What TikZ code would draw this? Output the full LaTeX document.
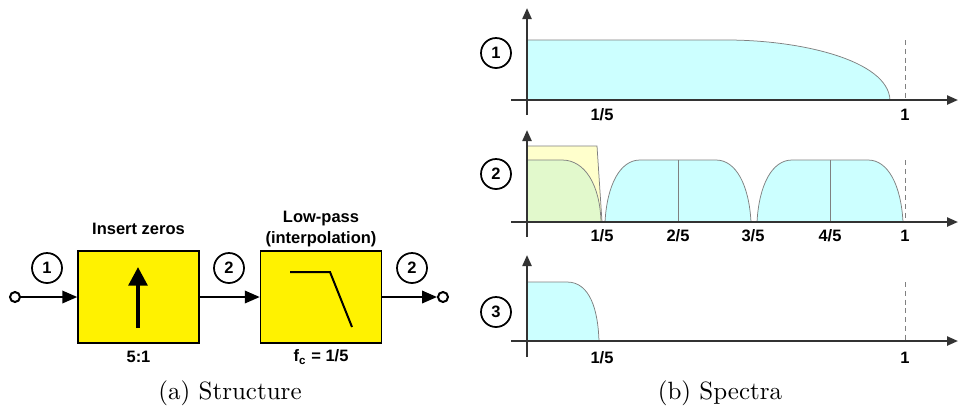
\documentclass[tikz,border=0pt]{standalone}
\usepackage{fontspec}
\newfontfamily\lblfont{Liberation Sans}
\usetikzlibrary{arrows.meta,calc}

\definecolor{specblue}{HTML}{CCFFFF}
\definecolor{specyellow}{HTML}{FFFFCC}
\definecolor{specgreen}{HTML}{E2F9CC}

\tikzset{
  lbl/.style={font=\lblfont\bfseries\fontsize{6.6}{8.4}\selectfont},
  num/.style={lbl,circle,draw,line width=0.7pt,minimum size=12pt,inner sep=0pt},
  blk/.style={draw,fill=yellow,line width=0.6pt,minimum width=48.4pt,minimum height=36.8pt},
  port/.style={circle,draw,fill=white,line width=0.8pt,minimum size=4pt,inner sep=0pt},
  sig/.style={line width=0.8pt,-{Triangle[length=6pt,width=5pt]}},
  axis/.style={line width=0.9pt,draw=black!80,-{Triangle[length=4.4pt,width=3.6pt]}},
  spec/.style={draw=black!50,line width=0.3pt},
  caption/.style={font=\fontsize{10}{12}\selectfont}
}

\begin{document}
\begin{tikzpicture}[x=0.4pt,y=-0.4pt]
  \useasboundingbox (0,0) rectangle (958,409);

  % (a) structure
  \node[port] (in) at (15,297) {};
  \node[blk] (zeros) at (138.5,297) {};
  \node[blk] (lowpass) at (321,297) {};
  \node[port] (out) at (443,297) {};
  \draw[sig] (in) -- (zeros);
  \draw[sig] (zeros) -- (lowpass);
  \draw[sig] (lowpass) -- (out);
  \draw[line width=1.6pt,-{Triangle[length=7.4pt,width=7.4pt]}] (138,328) -- (138,267);
  \draw[line width=0.8pt] (290,272) -- (330,272) -- (352,327);
  \node[lbl] (zerostxt) at (138.5,229) {Insert zeros};
  \node[lbl,align=center] (lowtxt) at (321,229) {Low-pass\\(interpolation)};
  \node[lbl] (ratio) at (138.5,357) {5:1};
  \node[lbl] (cutoff) at (321,357) {f\textsubscript{c} = 1/5};
  \node[num] (n1) at (47,268) {1};
  \node[num] (n2) at (229,268) {2};
  \node[num] (n3) at (412,268) {2};
  \node[caption] (capa) at (230,393) {(a) Structure};

  % (b) spectra, panel 1
  \fill[specblue] (527,100) -- (527,40) -- (727,40) .. controls (800,40) and (888,60) .. (890,100) -- cycle;
  \draw[spec] (527,40) -- (727,40) .. controls (800,40) and (888,60) .. (890,100);
  \draw[spec,dash pattern=on 2pt off 1.5pt] (905,40) -- (905,100);
  \draw[axis] (511,100) -- (958,100);
  \draw[axis] (527,115) -- (527,8);
  \node[num] (s1) at (496,53) {1};
  \node[lbl] (a1t1) at (602,115) {1/5};
  \node[lbl] (a1t5) at (905,115) {1};

  % panel 2
  \filldraw[spec,fill=specyellow] (527,222) -- (527,146) -- (597,146) -- (602,222) -- cycle;
  \filldraw[spec,fill=specgreen] (527,222) -- (527,160) -- (562,160) .. controls (585,160) and (600,185) .. (601,222) -- cycle;
  \foreach \c in {678,830} {
    \filldraw[spec,fill=specblue] (\c-73,222) .. controls (\c-71,185) and (\c-58,160) .. (\c-38,160)
      -- (\c+38,160) .. controls (\c+58,160) and (\c+71,185) .. (\c+73,222) -- cycle;
    \draw[spec] (\c,160) -- (\c,222);
  }
  \draw[spec,dash pattern=on 2pt off 1.5pt] (905,160) -- (905,222);
  \draw[axis] (511,222) -- (958,222);
  \draw[axis] (527,237) -- (527,130);
  \node[num] (s2) at (496,174) {2};
  \node[lbl] (a2t1) at (602,236) {1/5};
  \node[lbl] (a2t2) at (678,236) {2/5};
  \node[lbl] (a2t3) at (753,236) {3/5};
  \node[lbl] (a2t4) at (830,236) {4/5};
  \node[lbl] (a2t5) at (905,236) {1};

  % panel 3
  \filldraw[spec,fill=specblue] (527,341) -- (527,282) -- (567,282) .. controls (590,282) and (598,310) .. (599,341) -- cycle;
  \draw[spec,dash pattern=on 2pt off 1.5pt] (905,282) -- (905,341);
  \draw[axis] (511,341) -- (958,341);
  \draw[axis] (527,357) -- (527,255);
  \node[num] (s3) at (496,312) {3};
  \node[lbl] (a3t1) at (602,358) {1/5};
  \node[lbl] (a3t5) at (905,358) {1};
  \node[caption] (capb) at (720,393) {(b) Spectra};
\end{tikzpicture}
\end{document}
